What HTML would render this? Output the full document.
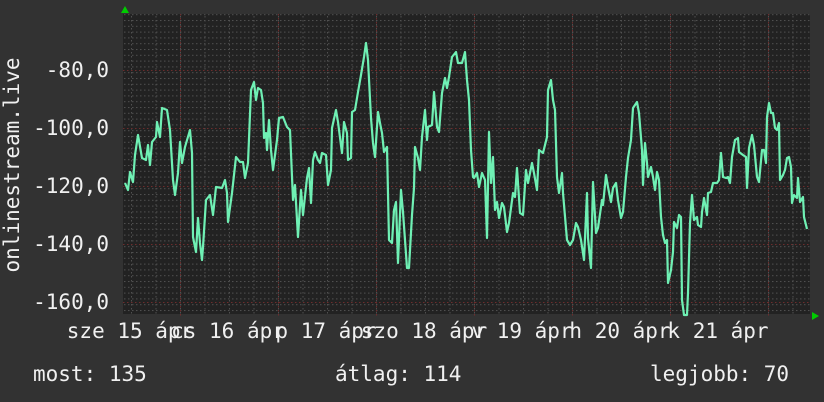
<!DOCTYPE html>
<html><head><meta charset="utf-8"><style>
html,body{margin:0;padding:0;background:#333;}
svg{display:block;}
text{font-family:"DejaVu Sans Mono","Liberation Mono",monospace;font-size:21px;fill:#f0f0f0;}
</style></head><body>
<svg width="824" height="402" viewBox="0 0 824 402" xmlns="http://www.w3.org/2000/svg">
<defs>
<pattern id="hg" x="0" y="2.6" width="4" height="5.8" patternUnits="userSpaceOnUse">
<rect x="0" y="0" width="1.5" height="1" fill="#505050"/>
</pattern>
<pattern id="vg" x="131" y="0" width="24.5" height="4" patternUnits="userSpaceOnUse">
<rect x="0" y="0" width="1" height="1.5" fill="#505050"/>
</pattern>
</defs>
<rect x="0" y="0" width="824" height="402" fill="#323232"/>
<rect x="123" y="14" width="687" height="300" fill="#222"/>
<rect x="123" y="14" width="687" height="300" fill="url(#hg)"/>
<rect x="123" y="14" width="687" height="300" fill="url(#vg)"/>
<g stroke="#6e2c2c" stroke-width="1" stroke-dasharray="1.5,2.5">
<line x1="123" x2="810" y1="70.5" y2="70.5"/>
<line x1="123" x2="810" y1="128.5" y2="128.5"/>
<line x1="123" x2="810" y1="186.5" y2="186.5"/>
<line x1="123" x2="810" y1="244.5" y2="244.5"/>
<line x1="123" x2="810" y1="302.5" y2="302.5"/>
<line y1="14" y2="316" x1="180.5" x2="180.5"/>
<line y1="14" y2="316" x1="278.5" x2="278.5"/>
<line y1="14" y2="316" x1="376.5" x2="376.5"/>
<line y1="14" y2="316" x1="474.5" x2="474.5"/>
<line y1="14" y2="316" x1="572.5" x2="572.5"/>
<line y1="14" y2="316" x1="670.5" x2="670.5"/>
<line y1="14" y2="316" x1="768.5" x2="768.5"/>
</g>
<polygon points="121,13 129,13 125,6" fill="#00cc00"/>
<polygon points="812,312 812,320 819,316" fill="#00cc00"/>
<polyline fill="none" stroke="#6ff0b4" stroke-width="2.2" stroke-linejoin="round" points="125,183 128,190 130,172 133,182 135,155 138,135 142,158 146,160 148,145 150,165 152,142 156,137 157,122 160,137 162,108 167,110 170,130 173,180 175,195 178,173 180,142 182,163 185,147 190,130 192,153 193,237 196,252 198,218 200,243 202,260 203,247 206,200 210,195 213,215 216,187 222,188 225,180 227,193 228,222 232,193 236,157 240,162 243,162 245,178 248,163 251,90 254,82 256,100 258,88 261,90 263,103 264,138 266,133 267,150 269,120 271,150 273,170 277,140 279,118 283,117 287,127 290,130 293,200 295,185 298,237 301,190 303,215 307,178 309,168 311,203 313,160 315,152 318,160 320,163 322,153 326,155 328,185 331,170 332,128 336,110 338,122 342,153 344,122 347,133 348,160 351,158 352,112 355,110 358,92 361,75 364,57 366,43 368,60 371,118 373,143 375,157 378,112 380,123 382,133 384,152 387,147 389,240 392,243 394,210 396,202 398,263 401,190 403,212 407,268 409,268 412,215 414,188 415,147 418,158 420,170 422,137 425,110 427,140 428,127 432,125 434,92 437,127 439,132 442,93 445,78 447,88 449,77 452,57 456,52 458,63 462,63 465,52 467,80 469,100 471,150 473,177 474,178 477,173 479,187 482,173 485,180 487,238 489,132 491,183 493,157 495,210 497,202 499,218 502,203 504,207 507,232 509,223 513,193 515,197 517,168 520,213 523,215 526,170 528,183 532,163 534,173 537,190 539,150 543,153 547,137 548,90 551,80 553,100 555,110 557,177 559,193 562,173 563,193 567,240 570,245 573,240 576,223 578,227 581,240 584,260 587,193 588,238 591,268 593,182 596,233 598,228 602,200 603,205 606,175 608,187 611,202 613,188 616,183 618,200 621,218 623,212 626,177 628,158 631,140 633,108 637,102 639,113 642,150 643,185 645,143 647,163 648,177 651,167 653,177 655,190 657,172 659,180 661,217 663,235 665,243 667,240 668,283 671,270 673,252 674,222 677,228 679,215 681,217 682,300 684,315 687,315 688,293 690,223 692,195 694,220 697,217 698,225 701,227 702,212 704,198 707,215 708,193 711,192 713,183 717,183 719,180 721,153 723,177 726,178 728,177 730,183 732,157 735,140 738,138 739,152 743,155 746,157 747,188 749,148 752,135 754,145 757,177 759,182 762,150 764,150 766,163 767,117 769,103 771,113 773,113 775,128 777,130 779,123 780,180 783,175 785,170 787,158 789,157 791,167 792,203 794,195 797,198 798,178 800,202 803,197 804,217 807,229"/>
<g text-anchor="end">
<text x="109" y="77">-80,0</text>
<text x="109" y="135">-100,0</text>
<text x="109" y="193">-120,0</text>
<text x="109" y="251">-140,0</text>
<text x="109" y="309">-160,0</text>
</g>
<text transform="translate(19,165) rotate(-90)" text-anchor="middle">onlinestream.live</text>
<g text-anchor="middle">
<text x="130" y="338">sze 15 ápr</text>
<text x="228" y="338">cs 16 ápr</text>
<text x="326" y="338">p 17 ápr</text>
<text x="424" y="338">szo 18 ápr</text>
<text x="522" y="338">v 19 ápr</text>
<text x="620" y="338">h 20 ápr</text>
<text x="718" y="338">k 21 ápr</text>
</g>
<text x="33" y="381">most: 135</text>
<text x="335" y="381">átlag: 114</text>
<text x="650" y="381">legjobb: 70</text>
</svg>
</body></html>
